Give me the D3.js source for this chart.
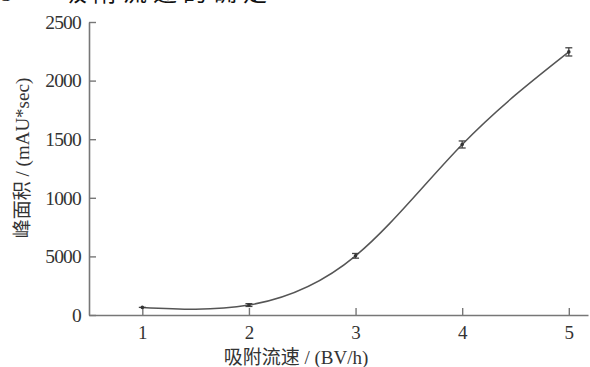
<!DOCTYPE html>
<html>
<head>
<meta charset="utf-8">
<script src="https://cdn.jsdelivr.net/npm/d3@7"></script>
<style>
  html, body { margin: 0; padding: 0; background: #fff; }
  svg { display: block; }
  text { font-family: "Liberation Serif", "Noto Sans CJK SC", serif; fill: #333; }
</style>
</head>
<body>
<svg id="chart" width="590" height="367"></svg>
<script>
// Adsorption flow rate vs. peak area
const flowRates = [1, 2, 3, 4, 5];
const peakArea = [65, 85, 505, 1455, 2245];
const errors = [0, 12, 20, 30, 35];
const xTicks = [1, 2, 3, 4, 5];
const yTicks = [0, 500, 1000, 1500, 2000, 2500];
const yTickLabels = ["0", "5000", "1000", "1500", "2000", "2500"];

const svg = d3.select("#chart");
const plotLeft = 89, plotRight = 588, plotTop = 22, plotBottom = 315;

const x = d3.scaleLinear().domain([0.5, 5.18]).range([plotLeft, plotRight]);
const y = d3.scaleLinear().domain([0, 2500]).range([plotBottom, plotTop]);

const axisColor = "#777";
const serif = "'Liberation Serif', 'Times New Roman', serif";

// caption line at the top of the figure
svg.append("text").attr("x", 1).attr("y", 1)
  .style("font-size", "22px").style("fill", "#111")
  .text("5");
svg.append("text").attr("x", 63).attr("y", 1)
  .style("font-size", "24px").style("fill", "#111")
  .style("font-family", "'Noto Sans CJK SC', sans-serif")
  .style("letter-spacing", "6px")
  .text("吸附流速的确定");

// x axis
const xAxis = svg.append("g").attr("transform", `translate(0,${plotBottom})`)
  .call(d3.axisBottom(x).tickValues(xTicks).tickFormat(d3.format("d"))
    .tickSizeInner(-7).tickSizeOuter(0).tickPadding(11));
xAxis.select(".domain").attr("stroke", axisColor).attr("stroke-width", 1.6);
xAxis.selectAll(".tick line").attr("stroke", axisColor).attr("stroke-width", 1.4);
xAxis.selectAll(".tick text").style("font-size", "19px").style("font-family", serif).attr("fill", "#333");

// y axis
const yAxis = svg.append("g").attr("transform", `translate(${plotLeft},0)`)
  .call(d3.axisLeft(y).tickValues(yTicks).tickFormat((d, i) => yTickLabels[i])
    .tickSizeInner(-7).tickSizeOuter(0).tickPadding(8));
yAxis.select(".domain").attr("stroke", axisColor).attr("stroke-width", 1.6);
yAxis.selectAll(".tick line").attr("stroke", axisColor).attr("stroke-width", 1.4);
yAxis.selectAll(".tick text").style("font-size", "19.5px").style("letter-spacing", "-0.8px")
  .style("font-family", serif).attr("fill", "#333");

// fitted curve through the measured points
const pts = flowRates.map((f, i) => [f, peakArea[i]]);
svg.append("path").datum(pts)
  .attr("fill", "none").attr("stroke", "#555").attr("stroke-width", 1.5)
  .attr("d", d3.line().x(d => x(d[0])).y(d => y(d[1])).curve(d3.curveNatural));

// error bars
const eb = svg.append("g").attr("stroke", "#444").attr("stroke-width", 1.3);
flowRates.forEach((f, i) => {
  const cx = x(f), e = errors[i];
  if (e > 0) {
    eb.append("line").attr("x1", cx).attr("x2", cx).attr("y1", y(peakArea[i] - e)).attr("y2", y(peakArea[i] + e));
    eb.append("line").attr("x1", cx - 3.5).attr("x2", cx + 3.5).attr("y1", y(peakArea[i] + e)).attr("y2", y(peakArea[i] + e));
    eb.append("line").attr("x1", cx - 3.5).attr("x2", cx + 3.5).attr("y1", y(peakArea[i] - e)).attr("y2", y(peakArea[i] - e));
  } else {
    eb.append("line").attr("x1", cx - 3.5).attr("x2", cx + 3.5).attr("y1", y(peakArea[i])).attr("y2", y(peakArea[i]));
  }
  svg.append("circle").attr("cx", cx).attr("cy", y(peakArea[i])).attr("r", 1.8).attr("fill", "#333");
});

// axis titles
svg.append("text").attr("x", 296).attr("y", 364)
  .attr("text-anchor", "middle").style("font-size", "19px")
  .text("吸附流速 / (BV/h)");
svg.append("text")
  .attr("transform", "translate(29,158) rotate(-90)")
  .attr("text-anchor", "middle").style("font-size", "19px")
  .text("峰面积 / (mAU*sec)");
</script>
</body>
</html>
